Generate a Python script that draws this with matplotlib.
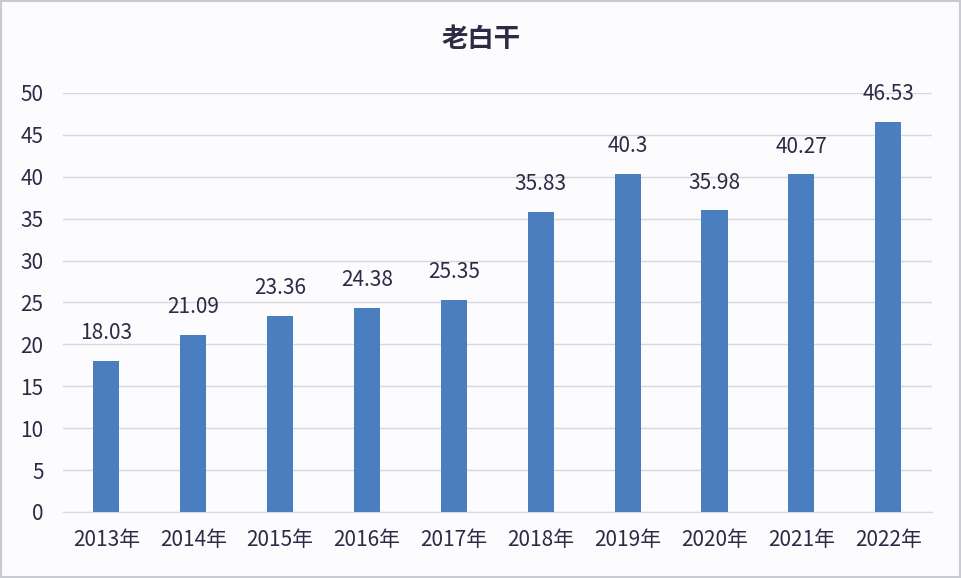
import matplotlib.pyplot as plt
from matplotlib.patches import Rectangle

plt.rcParams['font.family'] = ['Noto Sans CJK SC', 'DejaVu Sans']

# 数据
years = ["2013年", "2014年", "2015年", "2016年", "2017年",
         "2018年", "2019年", "2020年", "2021年", "2022年"]
values = [18.03, 21.09, 23.36, 24.38, 25.35, 35.83, 40.3, 35.98, 40.27, 46.53]
labels = ["18.03", "21.09", "23.36", "24.38", "25.35",
          "35.83", "40.3", "35.98", "40.27", "46.53"]

text_color = "#2e2a45"
bar_color = "#4a7ebf"

fig = plt.figure(figsize=(9.62, 5.78), dpi=100)
fig.patch.set_facecolor("#fcfcfe")
ax = fig.add_axes([0.0655, 0.1142, 0.903, 0.725])
ax.set_facecolor("#fcfcfe")

x = range(len(years))
ax.bar(x, values, width=0.3, color=bar_color, zorder=3)

# 数据标签
for i, (v, t) in enumerate(zip(values, labels)):
    ax.text(i, v + 2.0, t, ha="center", va="bottom", fontsize=15,
            color=text_color, clip_on=False)

ax.set_xlim(-0.5, len(years) - 0.5)
ax.set_ylim(0, 50)
ax.set_yticks(range(0, 51, 5))
ax.set_xticks(list(x))
ax.set_xticklabels(years)
ax.tick_params(axis="both", length=0, labelsize=15, colors=text_color)
ax.tick_params(axis="x", pad=12)
ax.tick_params(axis="y", pad=14)
ax.grid(axis="y", color="#d6d8de", linewidth=1, zorder=0)
for s in ["top", "right", "left"]:
    ax.spines[s].set_visible(False)
ax.spines["bottom"].set_color("#d6d8de")

fig.text(0.5, 0.932, "老白干", ha="center", va="center", fontsize=19,
         fontweight="bold", color=text_color)

# 外边框
fig.patches.append(Rectangle((0.001, 0.002), 0.997, 0.996, transform=fig.transFigure,
                             fill=False, edgecolor="#c8cad2", linewidth=1.5))

plt.savefig("out.png", dpi=100, facecolor=fig.get_facecolor())
